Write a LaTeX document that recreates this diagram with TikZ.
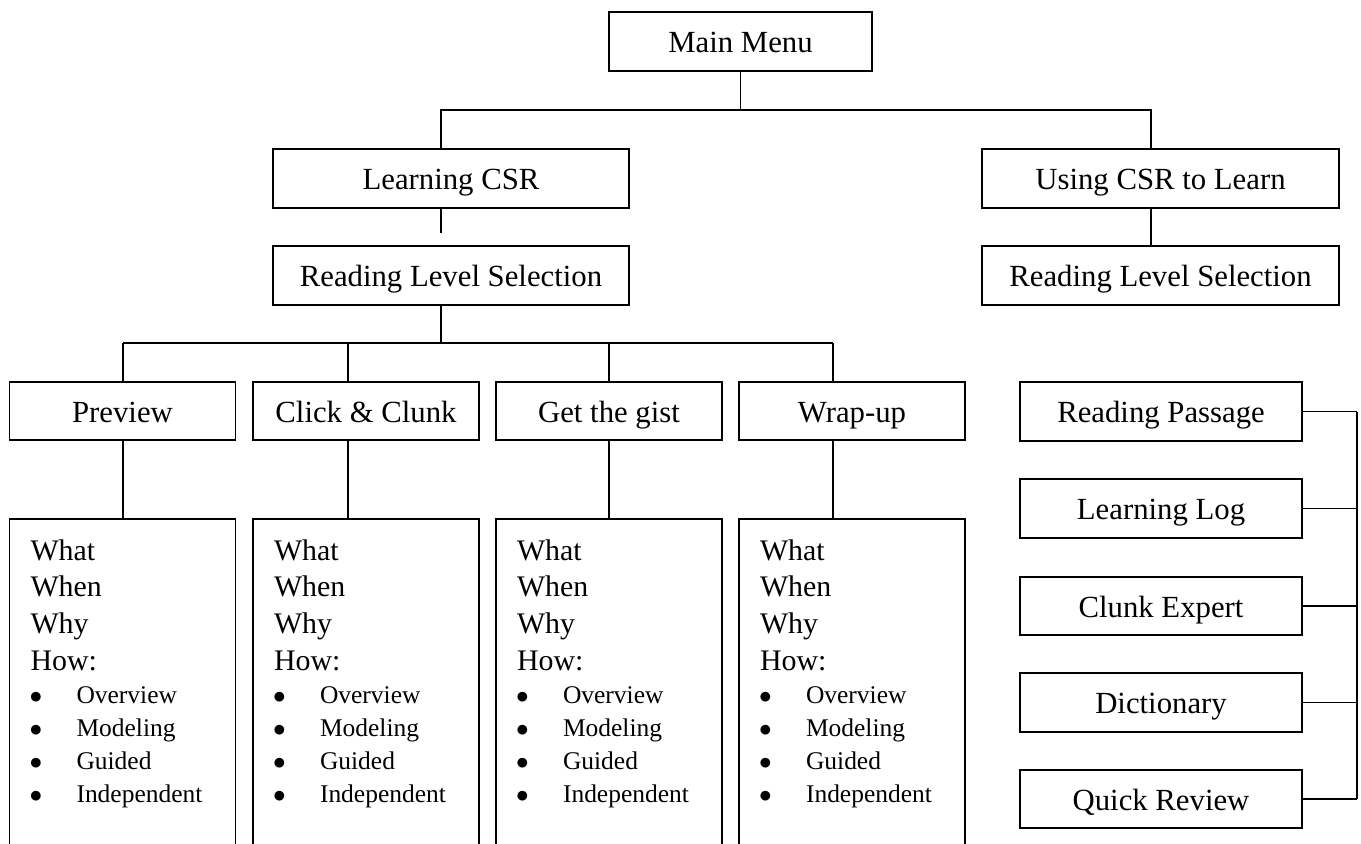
\documentclass[tikz,border=0pt]{standalone}
\usepackage{fontspec}
\setmainfont{Liberation Serif}
\usetikzlibrary{calc}

\begin{document}
\begin{tikzpicture}[x=0.02cm, y=-0.02cm, line width=0.9pt,
  menubox/.style={draw, minimum width=#1, minimum height=1.17cm, inner sep=0pt,
    text height=15pt, text depth=2pt, font=\fontsize{17.5}{21}\selectfont},
  infobox/.style={draw, anchor=north, minimum width=4.52cm, minimum height=7.4cm},
  bigtxt/.style={anchor=base west, inner sep=0pt, font=\fontsize{17}{20}\selectfont},
  smalltxt/.style={anchor=base west, inner sep=0pt, font=\fontsize{14.5}{17}\selectfont}]

  \useasboundingbox (0,0) rectangle (1361,844);
  \clip (0,0) rectangle (1361,844);

  % top levels
  \node[menubox=5.26cm] (main) at (740.5,41.5) {Main Menu};
  \node[menubox=7.12cm] (lcsr) at (451,178.5) {Learning CSR};
  \node[menubox=7.12cm] (rlsL) at (451,275.5) {Reading Level Selection};
  \node[menubox=7.14cm] (ucsr) at (1160.5,178.5) {Using CSR to Learn};
  \node[menubox=7.14cm] (rlsR) at (1160.5,275.5) {Reading Level Selection};

  \coordinate (busL) at (441,110);
  \coordinate (busR) at (1151,110);
  \draw (main.south) -- (main.south |- busL);
  \draw (lcsr.north -| busL) -- (busL) -- (busR) -- (ucsr.north -| busR);
  \draw[shorten >=0.24cm] (lcsr.south -| busL) -- (rlsL.north -| busL);
  \draw (ucsr.south -| busR) -- (rlsR.north -| busR);

  % strategies with their what/when/why/how boxes
  \foreach \i/\lab/\cx/\lx in {1/Preview/122.5/123, 2/Click \& Clunk/366/348,
                               3/Get the gist/609/609, 4/Wrap-up/852/833}{
    \coordinate (k\i) at (\lx,343);
    \node[menubox=4.52cm] (s\i) at (\cx,411) {\lab};
    \node[infobox] (d\i) at (\cx,518) {};
    \draw (k\i) -- (s\i.north -| k\i);
    \draw (s\i.south -| k\i) -- (d\i.north -| k\i);
    \foreach \w [count=\j] in {What,When,Why,How:}
      \node[bigtxt] (w\i\j) at ($(d\i.north west)+(21,5.3+36.7*\j)$) {\w};
    \foreach \w [count=\j] in {Overview,Modeling,Guided,Independent}{
      \node[smalltxt] (b\i\j) at ($(d\i.north west)+(20,152+33*\j)$) {$\bullet$};
      \node[smalltxt] (t\i\j) at ($(d\i.north west)+(67,152+33*\j)$) {\w};
    }
  }
  \draw (k1) -- (k4);
  \draw (rlsL.south -| busL) -- (busL |- k1);

  % tools column
  \coordinate (rail) at (1357,0);
  \foreach \i/\lab/\cy in {1/Reading Passage/411.5, 2/Learning Log/508.5,
                           3/Clunk Expert/606, 4/Dictionary/702.5, 5/Quick Review/799}{
    \node[menubox=5.64cm] (r\i) at (1161,\cy) {\lab};
    \draw (r\i.east) -- (r\i.east -| rail);
  }
  \draw (r1.east -| rail) -- (r5.east -| rail);
\end{tikzpicture}
\end{document}
